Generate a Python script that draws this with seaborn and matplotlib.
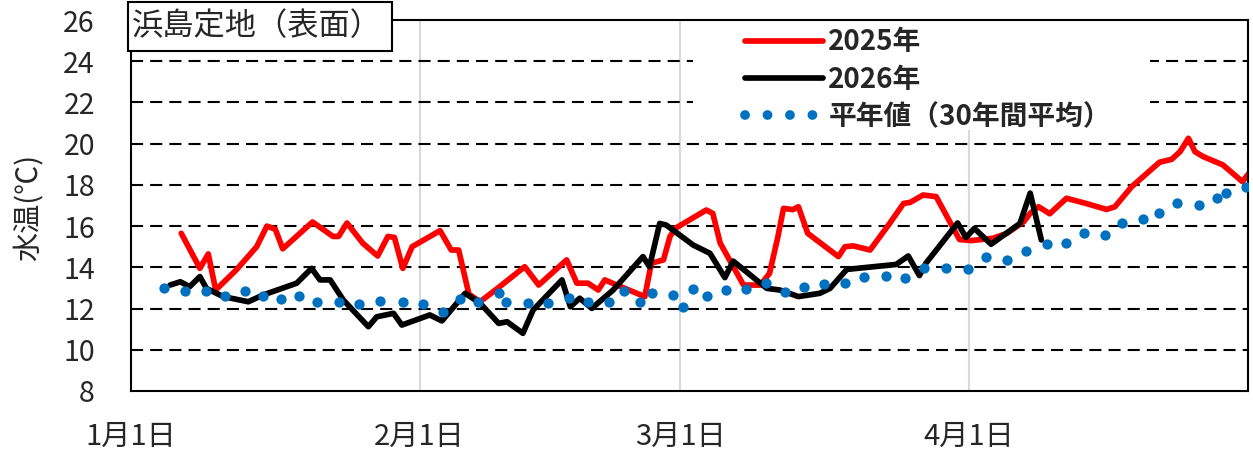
import pandas as pd
import seaborn as sns
import matplotlib.pyplot as plt
from matplotlib.lines import Line2D
from matplotlib.patches import Rectangle

# 日数は1月1日からの経過日
red_days = [5.4, 7.4, 8.3, 9.1, 11.3, 13.5, 14.6, 15.5, 16.3, 19.5, 21.7, 22.3, 23.2, 24.9,
            26.5, 27.6, 28.3, 29.2, 30.2, 33.2, 34.4, 35.2, 36.3, 37.5, 39.6, 42.3, 43.8,
            46.8, 47.9, 49.1, 50.2, 50.9, 52.2, 55.2, 55.9, 57.2, 57.9, 58.5, 61.8, 62.5,
            63.3, 65.1, 65.8, 67.6, 68.6, 69.5, 70.1, 71.1, 71.7, 72.7, 76.0, 76.7, 77.6,
            79.4, 81.5, 83.0, 83.7, 85.1, 86.5, 89.0, 90.3, 92.6, 94.1, 95.9, 96.6, 97.5,
            98.7, 100.5, 102.6, 104.8, 105.7, 107.5, 110.5, 111.8, 112.7, 113.6, 114.3,
            115.2, 117.3, 119.4, 120.1]
red_vals = [15.65, 13.95, 14.65, 12.9, 13.87, 15.0, 16.0, 15.85, 14.9, 16.2, 15.5, 15.5, 16.15,
            15.17, 14.55, 15.5, 15.45, 13.95, 15.0, 15.78, 14.84, 14.84, 12.7, 12.33, 13.06,
            14.03, 13.14, 14.36, 13.23, 13.23, 12.9, 13.39, 13.14, 12.58, 14.2, 14.36, 15.49,
            15.9, 16.78, 16.62, 15.17, 13.71, 13.14, 13.14, 13.71, 15.49, 16.86, 16.8, 16.94,
            15.65, 14.52, 15.0, 15.04, 14.84, 16.13, 17.1, 17.15, 17.51, 17.43, 15.35, 15.3,
            15.41, 15.65, 16.21, 16.62, 16.94, 16.6, 17.35, 17.1, 16.81, 16.94, 17.91, 19.1,
            19.24, 19.61, 20.26, 19.61, 19.37, 18.97, 18.16, 18.56]

black_days = [4.2, 5.3, 6.3, 7.4, 8.1, 9.9, 12.6, 14.2, 17.8, 19.4, 20.3, 21.4, 22.8, 25.5,
              26.4, 28.2, 29.1, 32.1, 33.4, 35.9, 37.5, 39.5, 40.4, 42.1, 43.2, 46.3, 47.2,
              48.2, 49.5, 51.8, 55.0, 55.7, 56.8, 57.5, 60.4, 62.2, 63.8, 64.7, 68.3, 69.7,
              71.7, 74.0, 75.1, 76.9, 82.2, 83.5, 84.7, 85.4, 88.8, 89.7, 90.6, 92.4, 95.5,
              96.6, 97.8]
black_vals = [13.14, 13.3, 13.06, 13.55, 12.98, 12.58, 12.33, 12.66, 13.23, 13.95, 13.39, 13.39,
              12.42, 11.12, 11.6, 11.77, 11.2, 11.69, 11.4, 12.74, 12.26, 11.28, 11.36, 10.8,
              11.93, 13.39, 12.09, 12.5, 12.01, 12.9, 14.52, 14.03, 16.13, 16.05, 15.08, 14.68,
              13.5, 14.3, 12.98, 12.9, 12.58, 12.74, 12.98, 13.9, 14.14, 14.55, 13.6, 14.2,
              16.15, 15.45, 15.89, 15.12, 16.13, 17.6, 15.33]

norm_days = [3.5, 5.8, 8.1, 10.1, 12.2, 14.2, 16.1, 18.1, 20.0, 22.3, 24.5, 26.8, 29.2, 31.4,
             33.5, 35.3, 37.3, 39.5, 40.3, 42.6, 44.8, 47.1, 49.1, 51.3, 53.0, 54.7, 56.0,
             58.2, 59.3, 60.4, 61.9, 63.9, 66.1, 68.2, 70.3, 72.3, 74.4, 76.7, 78.7, 81.1,
             83.2, 85.2, 87.6, 89.9, 91.8, 94.1, 96.1, 98.4, 100.5, 102.4, 104.6, 106.5,
             108.7, 110.4, 112.4, 114.7, 116.7, 117.6, 119.8]
norm_vals = [12.98, 12.87, 12.87, 12.6, 12.87, 12.6, 12.45, 12.6, 12.33, 12.33, 12.22, 12.37,
             12.3, 12.2, 11.85, 12.48, 12.33, 12.74, 12.33, 12.26, 12.26, 12.53, 12.33, 12.33,
             12.85, 12.33, 12.77, 12.66, 12.09, 12.95, 12.62, 12.9, 12.95, 13.25, 12.79, 13.03,
             13.2, 13.25, 13.55, 13.58, 13.47, 13.98, 13.95, 13.92, 14.49, 14.36, 14.81, 15.13,
             15.17, 15.68, 15.57, 16.13, 16.33, 16.62, 17.1, 17.02, 17.35, 17.59, 17.88]

tick_days = [0, 31, 59, 90, 120]
tick_labels = ["1月1日", "2月1日", "3月1日", "4月1日", ""]
series_names = ["2025年", "2026年", "平年値（30年間平均）"]

df_red = pd.DataFrame({"day": red_days, "temp": red_vals})
df_black = pd.DataFrame({"day": black_days, "temp": black_vals})
df_norm = pd.DataFrame({"day": norm_days, "temp": norm_vals})

sns.set_style("white")
plt.rcParams["font.family"] = ["Noto Sans CJK JP", "DejaVu Sans"]

fig = plt.figure(figsize=(12.53, 4.59), dpi=100)
ax = fig.add_axes([131 / 1253, 1 - 391 / 459, 1117 / 1253, 371 / 459])

# グリッド
for v in range(10, 25, 2):
    ax.axhline(v, color="black", lw=1.5, ls=(0, (5.8, 3.4)), zorder=0.5)
for d in tick_days[1:4]:
    ax.axvline(d, color="#d9d9d9", lw=1.5, zorder=0.4)

# 凡例の白地
ax.add_patch(Rectangle((0.503, 0.7035), 0.409, 0.2965, transform=ax.transAxes,
                       fc="white", ec="none", zorder=1))

sns.lineplot(data=df_red, x="day", y="temp", color="#ff0000", lw=4.1, ax=ax, zorder=2)
sns.lineplot(data=df_black, x="day", y="temp", color="black", lw=4.1, ax=ax, zorder=3)
sns.scatterplot(data=df_norm, x="day", y="temp", color="#0070c0", s=55, linewidth=0,
                ax=ax, zorder=4)

ax.set_xlim(0, 120)
ax.set_ylim(8, 26)
ax.set_yticks(range(8, 27, 2))
ax.set_xticks(tick_days)
ax.set_xticklabels(tick_labels)
ax.tick_params(axis="y", direction="out", length=8, width=1.5, pad=18, labelsize=20.5)
ax.tick_params(axis="x", direction="inout", length=14, width=1.5, pad=15, labelsize=21)
for s in ax.spines.values():
    s.set_linewidth(1.5)
    s.set_color("black")
ax.set_xlabel("")
ax.set_ylabel("水温(℃)", fontsize=21)
ax.yaxis.set_label_coords(-0.077, 0.495)

handles = [
    Line2D([], [], color="#ff0000", lw=4.1),
    Line2D([], [], color="black", lw=4.1),
    Line2D([], [], color="#0070c0", lw=7, ls=(0, (0.01, 2.3)), dash_capstyle="round"),
]
leg = ax.legend(handles, series_names, loc="upper left", bbox_to_anchor=(0.5423, 1.0),
                frameon=False, borderaxespad=0, borderpad=0.3, handlelength=2.8,
                handletextpad=0.2, labelspacing=0.34, prop={"size": 20, "weight": "bold"})
leg.set_zorder(5)

# タイトル枠
fig.add_artist(Rectangle((128 / 1253, 1 - 51 / 459), 264 / 1253, 49 / 459,
                         transform=fig.transFigure, fc="white", ec="black", lw=1.5, zorder=5))
fig.text(257 / 1253, 1 - 26 / 459, "浜島定地（表面）", ha="center", va="center",
         fontsize=22.5, zorder=6)

fig.savefig("out.png", dpi=100)
